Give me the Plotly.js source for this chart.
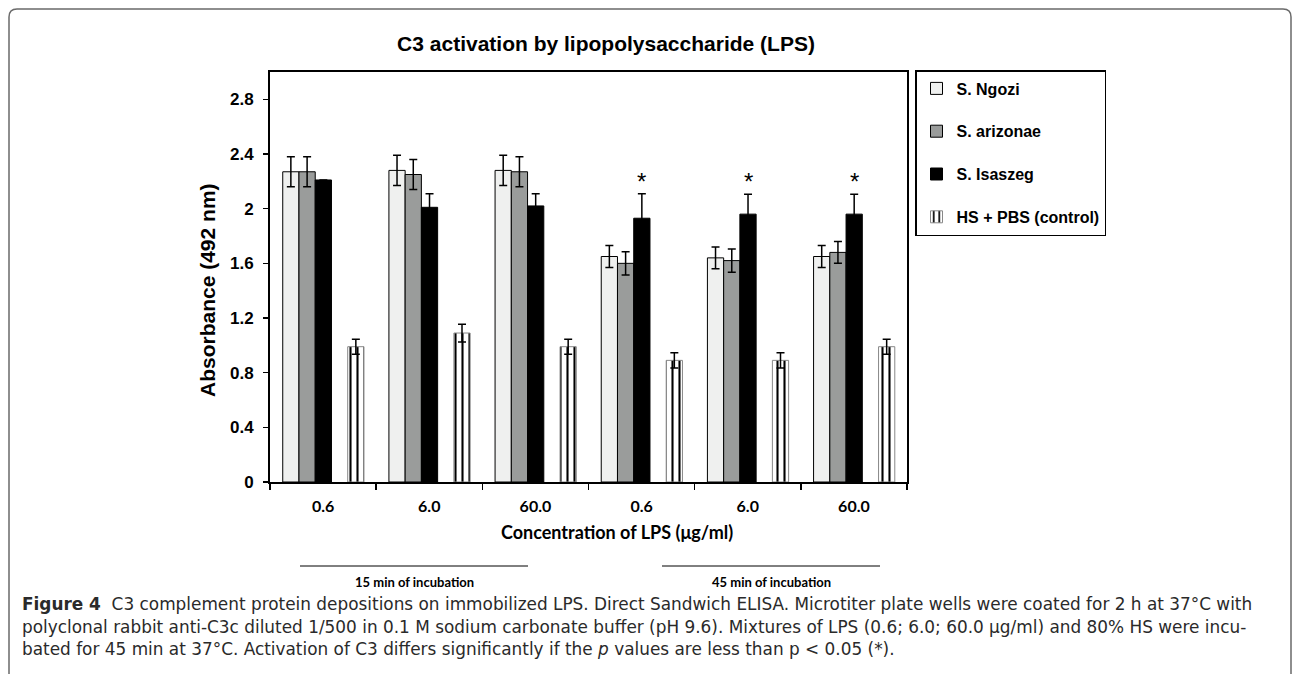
<!DOCTYPE html>
<html>
<head>
<meta charset="utf-8">
<script src="https://cdn.plot.ly/plotly-3.0.1.min.js"></script>
<style>
  html, body { margin: 0; padding: 0; background: #fff; }
  #chart { width: 1292px; height: 674px; }
</style>
</head>
<body>
<div id="chart"></div>
<script>
// ---- data ----
const categories = ["0.6", "6.0", "60.0", "0.6", "6.0", "60.0"];
const seriesNames = ["S. Ngozi", "S. arizonae", "S. Isaszeg", "HS + PBS (control)"];
const ngozi      = [2.27, 2.28, 2.28, 1.65, 1.64, 1.65];
const ngoziErr   = [0.11, 0.11, 0.11, 0.08, 0.08, 0.08];
const arizonae    = [2.27, 2.25, 2.27, 1.60, 1.62, 1.68];
const arizonaeErr = [0.11, 0.11, 0.11, 0.085, 0.085, 0.08];
const isaszeg     = [2.21, 2.01, 2.02, 1.93, 1.96, 1.96];
const isaszegErr  = [0.0, 0.10, 0.09, 0.18, 0.145, 0.145];
const control     = [0.99, 1.09, 0.99, 0.89, 0.89, 0.99];
const controlErr  = [0.055, 0.065, 0.055, 0.055, 0.055, 0.055];
const significance = ["", "", "", "*", "*", "*"];
const incubationLabels = ["15 min of incubation", "45 min of incubation"];

// ---- geometry ----
const W = 1292, H = 674;
const M = { l: 270, r: 385, t: 72, b: 192 };
const PW = W - M.l - M.r, PH = H - M.t - M.b;
const px = x => (x - M.l) / PW;
const py = y => (H - M.b - y) / PH;

const xIdx = categories.map((_, i) => i);
const barW = 0.153;
const offs = [-0.38, -0.227, -0.074, 0.232];

function barTrace(name, y, err, color, lineColor, lineW, idx) {
  return {
    type: 'bar', name: name, x: xIdx, y: y,
    width: barW, offset: offs[idx],
    legendgroup: 'g' + idx,
    marker: { color: color, line: { color: lineColor, width: lineW } },
    error_y: { type: 'data', array: err, visible: true, color: '#000', thickness: 1.5, width: 4 },
    hoverinfo: 'y'
  };
}

const traces = [
  barTrace(seriesNames[0], ngozi, ngoziErr, '#eff0ef', '#000', 1, 0),
  barTrace(seriesNames[1], arizonae, arizonaeErr, '#9a9c9b', '#000', 1, 1),
  barTrace(seriesNames[2], isaszeg, isaszegErr, '#000000', '#000', 1, 2),
  barTrace(seriesNames[3], control, controlErr, '#ffffff', '#888', 1, 3),
];
traces[3].marker.pattern = { shape: '|', fgcolor: '#000', bgcolor: '#fff', size: 7, solidity: 0.3 };

// ---- annotations ----
const annotations = [];
significance.forEach((s, i) => {
  if (s) {
    annotations.push({
      x: i + offs[2] + barW / 2, y: isaszeg[i] + isaszegErr[i],
      xref: 'x', yref: 'y', text: s, showarrow: false,
      yanchor: 'bottom', yshift: -3,
      font: { family: 'Liberation Sans, Arial', size: 24, color: '#000' }
    });
  }
});

// axis titles (positioned as in the reference, slightly off-centre)
annotations.push({ xref: 'paper', yref: 'paper', x: px(617), y: py(532),
  text: '<b>Concentration of LPS (μg/ml)</b>', showarrow: false, xanchor: 'center', yanchor: 'middle',
  font: { family: 'Lato', size: 18, color: '#000' } });
annotations.push({ xref: 'paper', yref: 'paper', x: px(207), y: py(290),
  text: '<b>Absorbance (492 nm)</b>', showarrow: false, textangle: -90,
  xanchor: 'center', yanchor: 'middle',
  font: { family: 'Liberation Sans, Arial', size: 21, color: '#000' } });

const incLines = [[300, 528], [662, 880]];
const shapes = [];
incLines.forEach((seg, k) => {
  shapes.push({ type: 'line', xref: 'paper', yref: 'paper',
    x0: px(seg[0]), x1: px(seg[1]), y0: py(566), y1: py(566),
    line: { color: '#000', width: 1 } });
  annotations.push({ xref: 'paper', yref: 'paper', x: px((seg[0] + seg[1]) / 2), y: py(582),
    text: '<b>' + incubationLabels[k] + '</b>', showarrow: false, xanchor: 'center', yanchor: 'middle',
    font: { family: 'Lato', size: 13, color: '#000' } });
});

// frame
shapes.push({ type: 'path', xref: 'paper', yref: 'paper',
  path: `M ${px(9)},${py(680)} L ${px(9)},${py(17)} Q ${px(9)},${py(9)} ${px(17)},${py(9)} L ${px(1283)},${py(9)} Q ${px(1291)},${py(9)} ${px(1291)},${py(17)} L ${px(1291)},${py(680)}`,
  line: { color: '#6a6a6a', width: 1.5 } });

const capFont = { family: 'DejaVu Sans', size: 16.9, color: '#2a2a2a' };
const captionLines = [
  '<b>Figure 4</b>  C3 complement protein depositions on immobilized LPS. Direct Sandwich ELISA. Microtiter plate wells were coated for 2 h at 37°C with',
  'polyclonal rabbit anti-C3c diluted 1/500 in 0.1 M sodium carbonate buffer (pH 9.6). Mixtures of LPS (0.6; 6.0; 60.0 μg/ml) and 80% HS were incu-',
  'bated for 45 min at 37°C. Activation of C3 differs significantly if the <i>p</i> values are less than p &lt; 0.05 (*).'
];
const capY = [604, 627, 649];
captionLines.forEach((t, k) => {
  annotations.push({ xref: 'paper', yref: 'paper', x: px(20), y: py(capY[k]), text: t,
    showarrow: false, xanchor: 'left', yanchor: 'middle', align: 'left', font: capFont });
});

const layout = {
  width: W, height: H,
  margin: M,
  paper_bgcolor: '#fff', plot_bgcolor: '#fff',
  barmode: 'overlay',
  title: { text: '<b>C3 activation by lipopolysaccharide (LPS)</b>',
    font: { family: 'Liberation Sans, Arial', size: 21, color: '#000' },
    x: px(606), xanchor: 'center', xref: 'paper', y: 1 - 44 / H, yanchor: 'middle' },
  xaxis: {
    range: [-0.5, 5.5], tickmode: 'array', tickvals: xIdx, ticktext: categories,
    ticks: '', ticklabelstandoff: 9, showgrid: false, zeroline: false,
    showline: true, linecolor: '#000', linewidth: 2, mirror: true,
    tickfont: { family: 'Lato', size: 16, color: '#000', weight: 'bold' },
    minor: { tickmode: 'array', tickvals: [-0.5, 0.5, 1.5, 2.5, 3.5, 4.5, 5.5], ticks: 'outside',
      ticklen: 6, tickwidth: 1.5, tickcolor: '#000', showgrid: false },
    fixedrange: true
  },
  yaxis: {
    range: [0, 3.0], tickmode: 'linear', tick0: 0, dtick: 0.4,
    ticks: 'outside', ticklen: 5, tickwidth: 1.5, tickcolor: '#000', ticklabelstandoff: 6,
    showgrid: false, zeroline: false,
    showline: true, linecolor: '#000', linewidth: 2, mirror: true,
    tickfont: { family: 'Liberation Sans, Arial', size: 17, color: '#000', weight: 'bold' },
    fixedrange: true
  },
  showlegend: true,
  legend: {
    x: px(915), xanchor: 'left', y: py(70), yanchor: 'top', xref: 'paper', yref: 'paper',
    bordercolor: '#000', borderwidth: 1.5, bgcolor: '#fff',
    font: { family: 'Liberation Sans, Arial', size: 16, color: '#000', weight: 'bold' },
    traceorder: 'grouped', tracegroupgap: 19, itemwidth: 30
  },
  annotations: annotations,
  shapes: shapes
};

Plotly.newPlot('chart', traces, layout, { displayModeBar: false, staticPlot: true });
</script>
</body>
</html>
